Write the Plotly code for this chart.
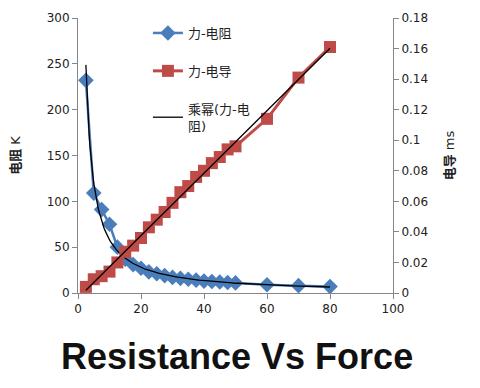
import numpy as np
import plotly.graph_objects as go

force = [2.5, 5, 7.5, 10, 12.5, 15, 17.5, 20, 22.5, 25, 27.5, 30, 32.5, 35, 37.5,
         40, 42.5, 45, 47.5, 50, 60, 70, 80]
resistance = [232, 109, 91, 75, 50, 37, 31, 27, 23, 21, 19, 17, 16, 15, 14,
              13, 12.5, 12, 11.5, 11, 9, 8, 7]
conductance = [0.004, 0.009, 0.011, 0.014, 0.020, 0.027, 0.031, 0.036, 0.043, 0.048,
               0.053, 0.059, 0.066, 0.070, 0.076, 0.080, 0.085, 0.089, 0.094, 0.096,
               0.114, 0.141, 0.161]

name_r = "力-电阻"
name_g = "力-电导"
name_pow = "乘幂(力-电<br>阻)"
title = "Resistance Vs Force"

xa = np.array(force, dtype=float)
# power trendline fitted to resistance
b, lna = np.polyfit(np.log(xa), np.log(np.array(resistance, dtype=float)), 1)
xt = np.linspace(xa.min(), xa.max(), 300)
yt = np.exp(lna) * xt ** b
# linear trendline fitted to conductance
m, c = np.polyfit(xa, np.array(conductance, dtype=float), 1)
xl = np.array([xa.min(), xa.max()])
yl = m * xl + c

BLUE = "#4A7EBB"
RED = "#BE4B48"
FONT = "DejaVu Sans, Noto Sans CJK SC"

fig = go.Figure()
fig.add_trace(go.Scatter(x=force, y=resistance, name=name_r, mode="lines+markers",
                         line=dict(color=BLUE, width=2.5),
                         marker=dict(symbol="diamond", size=12, color=BLUE),
                         legendgroup="a"))
fig.add_trace(go.Scatter(x=force, y=conductance, name=name_g, mode="lines+markers",
                         yaxis="y2", line=dict(color=RED, width=3),
                         marker=dict(symbol="square", size=12, color=RED),
                         legendgroup="b"))
fig.add_trace(go.Scatter(x=xt, y=yt, name=name_pow, mode="lines",
                         line=dict(color="black", width=1.3), legendgroup="c"))
fig.add_trace(go.Scatter(x=xl, y=yl, mode="lines", yaxis="y2", showlegend=False,
                         line=dict(color="black", width=1.3)))

axis_common = dict(showline=True, linecolor="#868686", linewidth=1, ticks="outside",
                   tickcolor="#868686", ticklen=5, showgrid=False, zeroline=False,
                   automargin=False,
                   tickfont=dict(family=FONT, size=12, color="#222"))

fig.update_layout(
    width=472, height=380,
    margin=dict(l=70, r=87, t=10, b=95),
    paper_bgcolor="white", plot_bgcolor="white",
    font=dict(family=FONT, color="#222"),
    xaxis=dict(range=[0, 100], dtick=20, **axis_common),
    yaxis=dict(range=[0, 300], dtick=50,
               title=dict(text="<b>电阻</b> K", font=dict(family=FONT, size=13), standoff=26),
               **axis_common),
    yaxis2=dict(range=[0, 0.18], dtick=0.02, overlaying="y", side="right",
                title=dict(text="<b>电导</b> ms", font=dict(family=FONT, size=13), standoff=17),
                **axis_common),
    showlegend=True,
    legend=dict(x=0.222, y=1.0, xanchor="left", yanchor="top",
                bgcolor="rgba(0,0,0,0)",
                font=dict(family=FONT, size=13, color="#222"), tracegroupgap=18,
                traceorder="grouped", itemwidth=30),
    title=dict(text="<b>" + title + "</b>", x=0.505, xanchor="center", y=0.082,
               yanchor="middle", xref="paper",
               font=dict(family="Liberation Sans, Arial", size=36, color="#111")),
)

fig.write_html("out.html")
